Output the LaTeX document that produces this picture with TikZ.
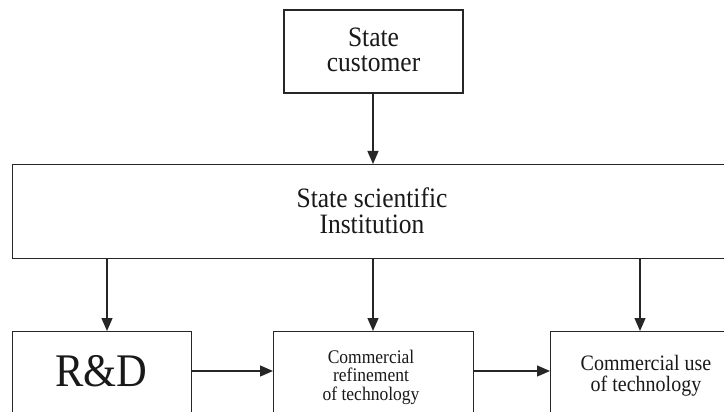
\documentclass[tikz,border=0pt]{standalone}
\usepackage{fontspec}
\usepackage{graphicx}
\setmainfont{Liberation Serif}
\usetikzlibrary{arrows.meta}
\newcommand{\tallt}[1]{\scalebox{1}[1.1]{\begin{tabular}{@{}c@{}}#1\end{tabular}}}
\tikzset{
  box/.style={draw=black!85, line width=1.4pt, rectangle, inner sep=0pt},
  txt/.style={align=center, inner sep=0pt, text=black!90},
  arr/.style={draw=black!85, line width=1.3pt, -{Triangle[width=11pt,length=13pt]}},
}
\begin{document}
\begin{tikzpicture}[x=1pt,y=-1pt]
\useasboundingbox (0,0) rectangle (724,412);
\clip (0,0) rectangle (724,412);
\fill[white] (0,0) rectangle (724,412);
% boxes
\node[box, minimum width=179pt, minimum height=83pt] (cust) at (373.5,51.5) {};
\node[box, minimum width=740pt, minimum height=94pt, anchor=north west] (inst) at (12,164) {};
\node[box, minimum width=179pt, minimum height=120pt, anchor=north west] (rd) at (12,331) {};
\node[box, minimum width=200pt, minimum height=120pt, anchor=north west] (ref) at (273,331) {};
\node[box, minimum width=200pt, minimum height=120pt, anchor=north west] (use) at (550,331) {};
% texts
\node[txt, font=\fontsize{25.5}{23}\selectfont] (custt) at (373.5,53.5) {\tallt{State\\customer}};
\node[txt, font=\fontsize{25.5}{23.6}\selectfont] (instt) at (372,214.5) {\tallt{State scientific\\Institution}};
\node[txt, font=\fontsize{42.5}{42}\selectfont] (rdt) at (101.5,377) {\tallt{R\&D}};
\node[txt, font=\fontsize{17.5}{16.4}\selectfont] (reft) at (371,378) {\tallt{Commercial\\refinement\\of technology}};
\node[txt, font=\fontsize{20}{19}\selectfont] (uset) at (646,376.5) {\tallt{Commercial use\\of technology}};
% arrow x positions
\coordinate (c1) at (107,0);
\coordinate (c2) at (373,0);
\coordinate (c3) at (640,0);
\coordinate (h) at (0,371);
% connectors
\draw[arr] (cust.south -| c2) -- (inst.north -| c2);
\draw[arr] (inst.south -| c1) -- (rd.north -| c1);
\draw[arr] (inst.south -| c2) -- (ref.north -| c2);
\draw[arr] (inst.south -| c3) -- (use.north -| c3);
\draw[arr] (rd.east |- h) -- (ref.west |- h);
\draw[arr] (ref.east |- h) -- (use.west |- h);
\end{tikzpicture}
\end{document}
